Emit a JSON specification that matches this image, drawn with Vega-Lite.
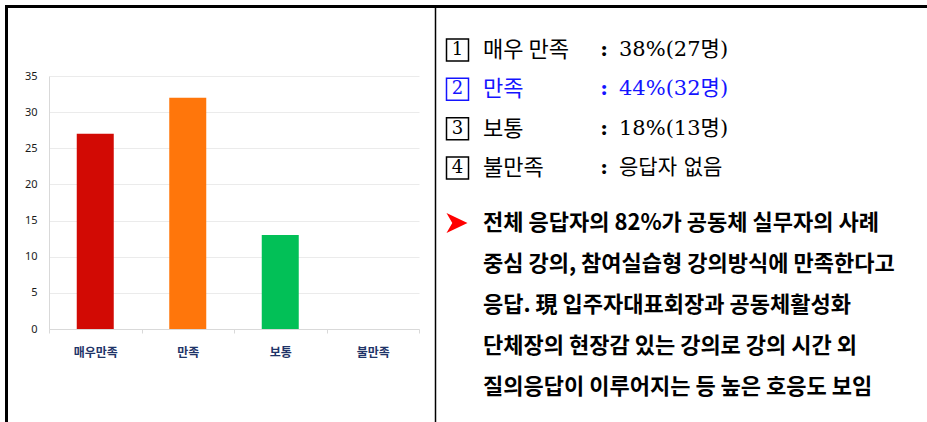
{
  "$schema": "https://vega.github.io/schema/vega-lite/v6.json",
  "width": 921,
  "height": 416,
  "padding": {"left": 6, "top": 6, "right": 0, "bottom": 0},
  "autosize": {"type": "none"},
  "background": "white",
  "config": {"view": {"stroke": null}, "font": "Noto Sans CJK KR"},
  "datasets": {
    "frame": [{"v": 0}],
    "responses": [
      {"category": "매우만족", "count": 27},
      {"category": "만족", "count": 32},
      {"category": "보통", "count": 13},
      {"category": "불만족", "count": 0}
    ],
    "summary": [
      {"no": "1", "item": "매우 만족", "value": "38%(27명)"},
      {"no": "2", "item": "만족", "value": "44%(32명)"},
      {"no": "3", "item": "보통", "value": "18%(13명)"},
      {"no": "4", "item": "불만족", "value": "응답자 없음"}
    ],
    "comment": [
      {"line": "1", "text": "전체 응답자의 82%가 공동체 실무자의 사례"},
      {"line": "2", "text": "중심 강의, 참여실습형 강의방식에 만족한다고"},
      {"line": "3", "text": "응답. 現 입주자대표회장과 공동체활성화"},
      {"line": "4", "text": "단체장의 현장감 있는 강의로 강의 시간 외"},
      {"line": "5", "text": "질의응답이 이루어지는 등 높은 호응도 보임"}
    ]
  },
  "layer": [
    {
      "data": {"name": "frame"},
      "mark": {"type": "point", "opacity": 0},
      "encoding": {
        "x": {"field": "v", "type": "quantitative", "scale": {"domain": [0, 1]},
          "axis": {"orient": "top", "domainColor": "#000000", "domainWidth": 3, "domainCap": "square", "ticks": false, "labels": false, "grid": false, "title": null}},
        "y": {"field": "v", "type": "quantitative", "scale": {"domain": [0, 1]},
          "axis": {"orient": "left", "domainColor": "#000000", "domainWidth": 3, "domainCap": "square", "ticks": false, "labels": false, "grid": false, "title": null}}
      }
    },
    {
      "data": {"name": "frame"},
      "mark": {"type": "point", "opacity": 0},
      "encoding": {
        "y": {"field": "v", "type": "quantitative", "scale": {"domain": [0, 1]},
          "axis": {"orient": "left", "offset": -429, "domainColor": "#000000", "domainWidth": 1.5, "ticks": false, "labels": false, "grid": false, "title": null}}
      }
    },
    {
      "data": {"name": "responses"},
      "mark": {"type": "bar", "width": {"band": 0.4}},
      "encoding": {
        "x": {"field": "category", "type": "nominal", "sort": null,
          "scale": {"domain": ["매우만족", "만족", "보통", "불만족"], "range": [43, 413], "paddingInner": 0, "paddingOuter": 0},
          "axis": {"orient": "bottom", "offset": -93, "title": null, "labelAngle": 0, "tickBand": "extent", "tickColor": "#d9d9d9", "tickSize": 4, "domainColor": "#d9d9d9", "labelFont": "Noto Sans CJK KR", "labelFontWeight": "bold", "labelFontSize": 12, "labelColor": "#1f3468", "labelPadding": 14, "grid": false}},
        "y": {"field": "count", "type": "quantitative",
          "scale": {"domain": [0, 35], "range": [323, 70], "nice": false},
          "axis": {"orient": "left", "offset": -43, "title": null, "values": [0, 5, 10, 15, 20, 25, 30, 35], "grid": true, "gridColor": "#ebebeb", "domainColor": "#d9d9d9", "ticks": false, "labelFont": "Noto Sans", "labelFontSize": 11, "labelColor": "#1a1a1a", "labelPadding": 12}},
        "color": {"field": "category", "type": "nominal",
          "scale": {"domain": ["매우만족", "만족", "보통", "불만족"], "range": ["#d20a04", "#ff760b", "#02c057", "#7f7f7f"]}, "legend": null}
      }
    },
    {
      "data": {"name": "summary"},
      "encoding": {
        "x": {"datum": 0, "type": "quantitative", "scale": {"domain": [0, 1], "range": [429, 921]}, "axis": null},
        "y": {"field": "no", "type": "ordinal", "scale": {"type": "point", "domain": ["1", "2", "3", "4"], "range": [44, 162], "padding": 0}, "axis": null},
        "color": {"field": "no", "type": "nominal", "scale": {"domain": ["1", "2", "3", "4"], "range": ["#000000", "#1414ff", "#000000", "#000000"]}, "legend": null}
      },
      "layer": [
        {"mark": {"type": "point", "shape": "square", "filled": false, "size": 484, "strokeWidth": 1.5, "opacity": 1, "xOffset": 22.5}},
        {"mark": {"type": "text", "align": "center", "baseline": "middle", "font": "DejaVu Serif", "fontSize": 18, "xOffset": 22.5}, "encoding": {"text": {"field": "no"}}},
        {"mark": {"type": "text", "align": "left", "baseline": "middle", "font": "Noto Sans CJK KR", "fontSize": 22, "xOffset": 48}, "encoding": {"text": {"field": "item"}}},
        {"mark": {"type": "text", "align": "center", "baseline": "middle", "font": "DejaVu Serif", "fontSize": 21, "fontWeight": "bold", "xOffset": 169}, "encoding": {"text": {"value": ":"}}},
        {"mark": {"type": "text", "align": "left", "baseline": "middle", "font": "DejaVu Serif, Noto Sans CJK KR", "fontSize": 21, "xOffset": 184}, "encoding": {"text": {"field": "value"}}}
      ]
    },
    {
      "data": {"name": "comment"},
      "encoding": {
        "x": {"datum": 0, "type": "quantitative", "scale": {"domain": [0, 1], "range": [429, 921]}, "axis": null},
        "y": {"field": "line", "type": "ordinal", "scale": {"type": "point", "domain": ["1", "2", "3", "4", "5"], "range": [217, 381], "padding": 0}, "axis": null}
      },
      "layer": [
        {"transform": [{"filter": "datum.line === '1'"}],
         "mark": {"type": "point", "shape": "M-1,-0.95L1,0L-1,0.95L-0.45,0Z", "filled": true, "color": "#ff0000", "size": 441, "opacity": 1, "xOffset": 22}},
        {"mark": {"type": "text", "align": "left", "baseline": "middle", "font": "Noto Sans CJK KR", "fontWeight": "bold", "fontSize": 22, "color": "#000000", "xOffset": 48}, "encoding": {"text": {"field": "text"}}}
      ]
    }
  ],
  "resolve": {
    "scale": {"x": "independent", "y": "independent", "color": "independent"},
    "axis": {"x": "independent", "y": "independent"}
  }
}
